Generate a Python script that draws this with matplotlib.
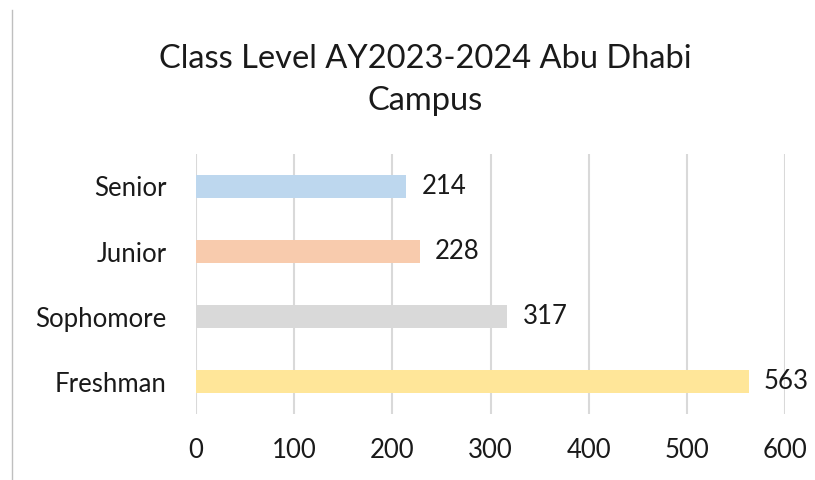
import matplotlib
matplotlib.use("Agg")
import matplotlib.pyplot as plt
from matplotlib.lines import Line2D

categories = ["Freshman", "Sophomore", "Junior", "Senior"]
values = [563, 317, 228, 214]
colors = ["#FFE699", "#D9D9D9", "#F8CBAD", "#BDD7EE"]
xticks = [0, 100, 200, 300, 400, 500, 600]

plt.rcParams['font.family'] = ['Lato', 'DejaVu Sans']

fig = plt.figure(figsize=(8.15, 4.8), dpi=100)
ax = fig.add_axes([196/815, 1-414/480, (785-196)/815, (414-154)/480])

ypos = list(range(len(categories)))
ax.barh(ypos, values, height=0.34, color=colors, zorder=3)
ax.set_xlim(0, 600)
ax.set_ylim(-0.5, len(categories)-0.5)
ax.set_xticks(xticks)
ax.set_xticklabels([str(t) for t in xticks], fontsize=18.5)
ax.set_yticks(ypos)
ax.set_yticklabels(categories, fontsize=18.5)
ax.tick_params(axis='both', length=0, colors='#1a1a1a')
ax.tick_params(axis='x', pad=17)
ax.tick_params(axis='y', pad=21)
ax.grid(axis='x', color='#D9D9D9', linewidth=1.5, zorder=0)
for s in ax.spines.values():
    s.set_visible(False)

for y, v in zip(ypos, values):
    ax.annotate(str(v), (v, y), xytext=(11, 0), textcoords='offset points',
                va='center', ha='left', fontsize=18.5, color='#1a1a1a')

fig.text(425/815, 1-80/480, "Class Level AY2023-2024 Abu Dhabi\nCampus",
         ha='center', va='center', fontsize=23.5, color='#1a1a1a', linespacing=1.5)

fig.add_artist(Line2D([12/815, 12/815], [0, 1-10/480], transform=fig.transFigure,
                      color='#BFBFBF', linewidth=1))

fig.savefig("out.png", dpi=100, facecolor='white')
